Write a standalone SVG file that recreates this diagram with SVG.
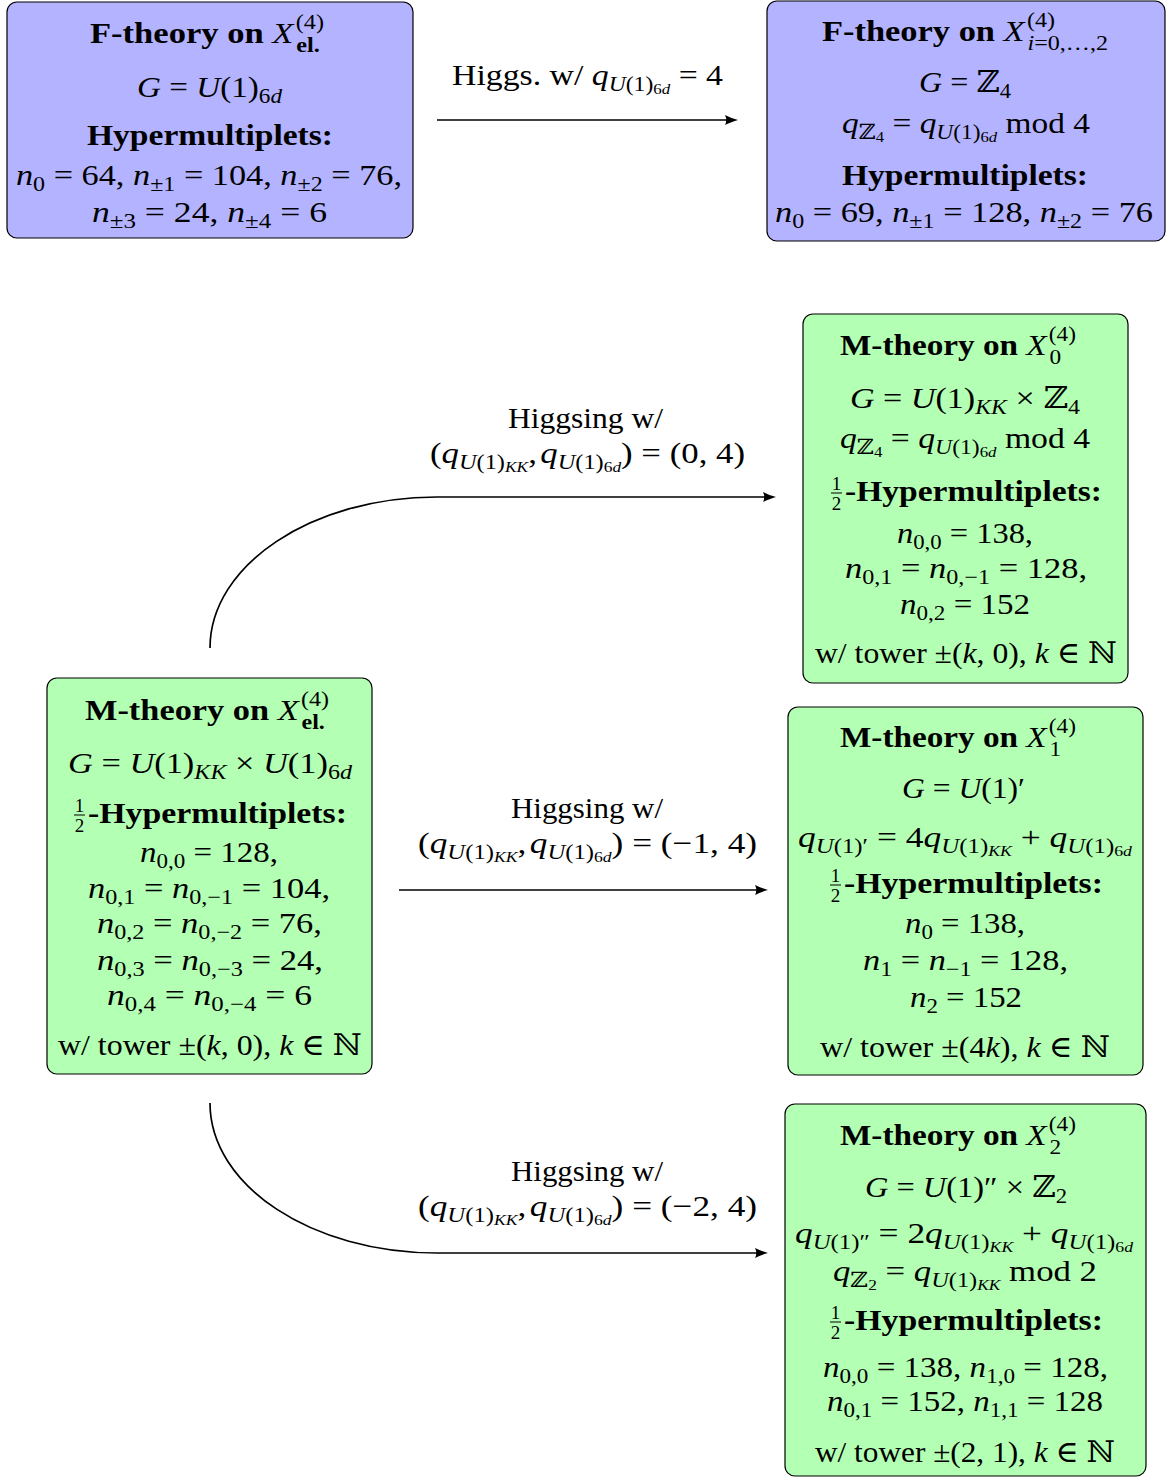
<svg xmlns="http://www.w3.org/2000/svg" width="1168" height="1477" viewBox="0 0 1168 1477">
<style>
text{font-family:"Liberation Serif","DejaVu Serif",serif;font-size:30px;fill:#000}
.b{font-weight:bold}
.i{font-style:italic}
.s{font-size:21px}
.ss{font-size:15px}
.fr{font-size:19px;text-anchor:middle}
.fb{fill:#b3b3ff;stroke:#000;stroke-width:1.2}
.gb{fill:#b3ffb3;stroke:#000;stroke-width:1.2}
.bar{stroke:#000;stroke-width:1}
.cn{fill:none;stroke:#000;stroke-width:1.7;marker-end:url(#ah)}
</style>
<defs>
<marker id="ah" markerWidth="14" markerHeight="12" refX="9" refY="6" orient="auto" markerUnits="userSpaceOnUse">
<path d="M13,6 C9,5 4,3 0,1 Q2.5,6 0,11 C4,9 9,7 13,6Z" fill="#000"/>
</marker>
</defs>

<g id="connectors">
<path class="cn" d="M437,120 L734,120"/>
<path class="cn" d="M210,648 C210,565 312,497 437,497 L772,497"/>
<path class="cn" d="M399,890 L764,890"/>
<path class="cn" d="M210,1103 C210,1186 312,1253 437,1253 L764,1253"/>
<text x="452" y="85" textLength="271" lengthAdjust="spacingAndGlyphs">Higgs.  w/ <tspan class="i">q</tspan><tspan class="s i" dy="6">U</tspan><tspan class="s">(1)</tspan><tspan class="ss" dy="3">6</tspan><tspan class="ss i">d</tspan><tspan dy="-9"> = 4</tspan></text>
<text x="508" y="428" textLength="155" lengthAdjust="spacingAndGlyphs">Higgsing w/</text>
<text x="430" y="463" textLength="315" lengthAdjust="spacingAndGlyphs">(<tspan class="i">q</tspan><tspan class="s i" dy="6">U</tspan><tspan class="s">(1)</tspan><tspan class="ss i" dy="3">KK</tspan><tspan dy="-9">,</tspan><tspan class="i" dx="3">q</tspan><tspan class="s i" dy="6">U</tspan><tspan class="s">(1)</tspan><tspan class="ss" dy="3">6</tspan><tspan class="ss i">d</tspan><tspan dy="-9">) = (0, 4)</tspan></text>
<text x="511" y="818" textLength="152" lengthAdjust="spacingAndGlyphs">Higgsing w/</text>
<text x="418" y="853" textLength="339" lengthAdjust="spacingAndGlyphs">(<tspan class="i">q</tspan><tspan class="s i" dy="6">U</tspan><tspan class="s">(1)</tspan><tspan class="ss i" dy="3">KK</tspan><tspan dy="-9">,</tspan><tspan class="i" dx="3">q</tspan><tspan class="s i" dy="6">U</tspan><tspan class="s">(1)</tspan><tspan class="ss" dy="3">6</tspan><tspan class="ss i">d</tspan><tspan dy="-9">) = (−1, 4)</tspan></text>
<text x="511" y="1181" textLength="152" lengthAdjust="spacingAndGlyphs">Higgsing w/</text>
<text x="418" y="1216" textLength="339" lengthAdjust="spacingAndGlyphs">(<tspan class="i">q</tspan><tspan class="s i" dy="6">U</tspan><tspan class="s">(1)</tspan><tspan class="ss i" dy="3">KK</tspan><tspan dy="-9">,</tspan><tspan class="i" dx="3">q</tspan><tspan class="s i" dy="6">U</tspan><tspan class="s">(1)</tspan><tspan class="ss" dy="3">6</tspan><tspan class="ss i">d</tspan><tspan dy="-9">) = (−2, 4)</tspan></text>
</g>

<g id="f-theory-el">
<rect class="fb" x="7" y="2" width="406" height="236" rx="10"/>
<text x="90" y="43" textLength="234" lengthAdjust="spacingAndGlyphs"><tspan class="b">F-theory on </tspan><tspan class="i">X</tspan><tspan class="s" dx="2" dy="-14">(4)</tspan><tspan class="s b" dx="-24" dy="23">el.</tspan></text>
<text x="137" y="97" textLength="145" lengthAdjust="spacingAndGlyphs"><tspan class="i">G</tspan> = <tspan class="i">U</tspan>(1)<tspan class="s" dy="6">6</tspan><tspan class="s i">d</tspan></text>
<text x="87" y="145" textLength="246" lengthAdjust="spacingAndGlyphs" class="b">Hypermultiplets:</text>
<text x="16" y="185" textLength="386" lengthAdjust="spacingAndGlyphs"><tspan class="i">n</tspan><tspan class="s" dy="6">0</tspan><tspan dy="-6"> = 64, </tspan><tspan class="i">n</tspan><tspan class="s" dy="6">±1</tspan><tspan dy="-6"> = 104, </tspan><tspan class="i">n</tspan><tspan class="s" dy="6">±2</tspan><tspan dy="-6"> = 76,</tspan></text>
<text x="92" y="222" textLength="235" lengthAdjust="spacingAndGlyphs"><tspan class="i">n</tspan><tspan class="s" dy="6">±3</tspan><tspan dy="-6"> = 24, </tspan><tspan class="i">n</tspan><tspan class="s" dy="6">±4</tspan><tspan dy="-6"> = 6</tspan></text>
</g>

<g id="f-theory-xi">
<rect class="fb" x="767" y="1" width="398" height="240" rx="10"/>
<text x="822" y="41" textLength="286" lengthAdjust="spacingAndGlyphs"><tspan class="b">F-theory on </tspan><tspan class="i">X</tspan><tspan class="s" dx="2" dy="-14">(4)</tspan><tspan class="s i" dx="-24" dy="23">i</tspan><tspan class="s">=0,…,2</tspan></text>
<text x="919" y="92" textLength="92" lengthAdjust="spacingAndGlyphs"><tspan class="i">G</tspan> = ℤ<tspan class="s" dy="6">4</tspan></text>
<text x="842" y="133" textLength="248" lengthAdjust="spacingAndGlyphs"><tspan class="i">q</tspan><tspan class="s" dy="6">ℤ</tspan><tspan class="ss" dy="3">4</tspan><tspan dy="-9"> = </tspan><tspan class="i">q</tspan><tspan class="s i" dy="6">U</tspan><tspan class="s">(1)</tspan><tspan class="ss" dy="3">6</tspan><tspan class="ss i">d</tspan><tspan dy="-9"> mod 4</tspan></text>
<text x="842" y="185" textLength="246" lengthAdjust="spacingAndGlyphs" class="b">Hypermultiplets:</text>
<text x="775" y="222" textLength="378" lengthAdjust="spacingAndGlyphs"><tspan class="i">n</tspan><tspan class="s" dy="6">0</tspan><tspan dy="-6"> = 69, </tspan><tspan class="i">n</tspan><tspan class="s" dy="6">±1</tspan><tspan dy="-6"> = 128, </tspan><tspan class="i">n</tspan><tspan class="s" dy="6">±2</tspan><tspan dy="-6"> = 76</tspan></text>
</g>

<g id="m-theory-x0">
<rect class="gb" x="803" y="314" width="325" height="369" rx="10"/>
<text x="840" y="355" textLength="236" lengthAdjust="spacingAndGlyphs"><tspan class="b">M-theory on </tspan><tspan class="i">X</tspan><tspan class="s" dx="2" dy="-14">(4)</tspan><tspan class="s" dx="-24" dy="23">0</tspan></text>
<text x="850" y="408" textLength="230" lengthAdjust="spacingAndGlyphs"><tspan class="i">G</tspan> = <tspan class="i">U</tspan>(1)<tspan class="s i" dy="6">KK</tspan><tspan dy="-6"> × ℤ</tspan><tspan class="s" dy="6">4</tspan></text>
<text x="840" y="448" textLength="250" lengthAdjust="spacingAndGlyphs"><tspan class="i">q</tspan><tspan class="s" dy="6">ℤ</tspan><tspan class="ss" dy="3">4</tspan><tspan dy="-9"> = </tspan><tspan class="i">q</tspan><tspan class="s i" dy="6">U</tspan><tspan class="s">(1)</tspan><tspan class="ss" dy="3">6</tspan><tspan class="ss i">d</tspan><tspan dy="-9"> mod 4</tspan></text>
<text class="fr" x="836.5" y="490">1</text><line class="bar" x1="831" y1="493" x2="842" y2="493"/><text class="fr" x="836.5" y="510">2</text>
<text x="845" y="501" textLength="257" lengthAdjust="spacingAndGlyphs" class="b">-Hypermultiplets:</text>
<text x="897" y="543" textLength="136" lengthAdjust="spacingAndGlyphs"><tspan class="i">n</tspan><tspan class="s" dy="6">0,0</tspan><tspan dy="-6"> = 138,</tspan></text>
<text x="845" y="578" textLength="242" lengthAdjust="spacingAndGlyphs"><tspan class="i">n</tspan><tspan class="s" dy="6">0,1</tspan><tspan dy="-6"> = </tspan><tspan class="i">n</tspan><tspan class="s" dy="6">0,−1</tspan><tspan dy="-6"> = 128,</tspan></text>
<text x="900" y="614" textLength="130" lengthAdjust="spacingAndGlyphs"><tspan class="i">n</tspan><tspan class="s" dy="6">0,2</tspan><tspan dy="-6"> = 152</tspan></text>
<text x="815" y="663" textLength="302" lengthAdjust="spacingAndGlyphs">w/ tower ±(<tspan class="i">k</tspan>, 0), <tspan class="i">k</tspan> ∈ ℕ</text>
</g>

<g id="m-theory-el">
<rect class="gb" x="47" y="678" width="325" height="396" rx="10"/>
<text x="85" y="720" textLength="244" lengthAdjust="spacingAndGlyphs"><tspan class="b">M-theory on </tspan><tspan class="i">X</tspan><tspan class="s" dx="2" dy="-14">(4)</tspan><tspan class="s b" dx="-24" dy="23">el.</tspan></text>
<text x="68" y="773" textLength="284" lengthAdjust="spacingAndGlyphs"><tspan class="i">G</tspan> = <tspan class="i">U</tspan>(1)<tspan class="s i" dy="6">KK</tspan><tspan dy="-6"> × </tspan><tspan class="i">U</tspan>(1)<tspan class="s" dy="6">6</tspan><tspan class="s i">d</tspan></text>
<text class="fr" x="79.5" y="812">1</text><line class="bar" x1="74" y1="815" x2="85" y2="815"/><text class="fr" x="79.5" y="832">2</text>
<text x="88" y="823" textLength="259" lengthAdjust="spacingAndGlyphs" class="b">-Hypermultiplets:</text>
<text x="140" y="862" textLength="138" lengthAdjust="spacingAndGlyphs"><tspan class="i">n</tspan><tspan class="s" dy="6">0,0</tspan><tspan dy="-6"> = 128,</tspan></text>
<text x="88" y="898" textLength="242" lengthAdjust="spacingAndGlyphs"><tspan class="i">n</tspan><tspan class="s" dy="6">0,1</tspan><tspan dy="-6"> = </tspan><tspan class="i">n</tspan><tspan class="s" dy="6">0,−1</tspan><tspan dy="-6"> = 104,</tspan></text>
<text x="97" y="933" textLength="225" lengthAdjust="spacingAndGlyphs"><tspan class="i">n</tspan><tspan class="s" dy="6">0,2</tspan><tspan dy="-6"> = </tspan><tspan class="i">n</tspan><tspan class="s" dy="6">0,−2</tspan><tspan dy="-6"> = 76,</tspan></text>
<text x="97" y="970" textLength="226" lengthAdjust="spacingAndGlyphs"><tspan class="i">n</tspan><tspan class="s" dy="6">0,3</tspan><tspan dy="-6"> = </tspan><tspan class="i">n</tspan><tspan class="s" dy="6">0,−3</tspan><tspan dy="-6"> = 24,</tspan></text>
<text x="107" y="1005" textLength="205" lengthAdjust="spacingAndGlyphs"><tspan class="i">n</tspan><tspan class="s" dy="6">0,4</tspan><tspan dy="-6"> = </tspan><tspan class="i">n</tspan><tspan class="s" dy="6">0,−4</tspan><tspan dy="-6"> = 6</tspan></text>
<text x="58" y="1055" textLength="304" lengthAdjust="spacingAndGlyphs">w/ tower ±(<tspan class="i">k</tspan>, 0), <tspan class="i">k</tspan> ∈ ℕ</text>
</g>

<g id="m-theory-x1">
<rect class="gb" x="788" y="707" width="355" height="368" rx="10"/>
<text x="840" y="747" textLength="236" lengthAdjust="spacingAndGlyphs"><tspan class="b">M-theory on </tspan><tspan class="i">X</tspan><tspan class="s" dx="2" dy="-14">(4)</tspan><tspan class="s" dx="-24" dy="23">1</tspan></text>
<text x="902" y="798" textLength="123" lengthAdjust="spacingAndGlyphs"><tspan class="i">G</tspan> = <tspan class="i">U</tspan>(1)′</text>
<text x="798" y="847" textLength="334" lengthAdjust="spacingAndGlyphs"><tspan class="i">q</tspan><tspan class="s i" dy="6">U</tspan><tspan class="s">(1)′</tspan><tspan dy="-6"> = 4</tspan><tspan class="i">q</tspan><tspan class="s i" dy="6">U</tspan><tspan class="s">(1)</tspan><tspan class="ss i" dy="3">KK</tspan><tspan dy="-9"> + </tspan><tspan class="i">q</tspan><tspan class="s i" dy="6">U</tspan><tspan class="s">(1)</tspan><tspan class="ss" dy="3">6</tspan><tspan class="ss i">d</tspan></text>
<text class="fr" x="835.5" y="882">1</text><line class="bar" x1="830" y1="885" x2="841" y2="885"/><text class="fr" x="835.5" y="902">2</text>
<text x="844" y="893" textLength="259" lengthAdjust="spacingAndGlyphs" class="b">-Hypermultiplets:</text>
<text x="905" y="933" textLength="120" lengthAdjust="spacingAndGlyphs"><tspan class="i">n</tspan><tspan class="s" dy="6">0</tspan><tspan dy="-6"> = 138,</tspan></text>
<text x="863" y="970" textLength="205" lengthAdjust="spacingAndGlyphs"><tspan class="i">n</tspan><tspan class="s" dy="6">1</tspan><tspan dy="-6"> = </tspan><tspan class="i">n</tspan><tspan class="s" dy="6">−1</tspan><tspan dy="-6"> = 128,</tspan></text>
<text x="910" y="1007" textLength="112" lengthAdjust="spacingAndGlyphs"><tspan class="i">n</tspan><tspan class="s" dy="6">2</tspan><tspan dy="-6"> = 152</tspan></text>
<text x="820" y="1057" textLength="290" lengthAdjust="spacingAndGlyphs">w/ tower ±(4<tspan class="i">k</tspan>), <tspan class="i">k</tspan> ∈ ℕ</text>
</g>

<g id="m-theory-x2">
<rect class="gb" x="785" y="1104" width="361" height="372" rx="10"/>
<text x="840" y="1145" textLength="236" lengthAdjust="spacingAndGlyphs"><tspan class="b">M-theory on </tspan><tspan class="i">X</tspan><tspan class="s" dx="2" dy="-14">(4)</tspan><tspan class="s" dx="-24" dy="23">2</tspan></text>
<text x="865" y="1197" textLength="202" lengthAdjust="spacingAndGlyphs"><tspan class="i">G</tspan> = <tspan class="i">U</tspan>(1)″ × ℤ<tspan class="s" dy="6">2</tspan></text>
<text x="795" y="1243" textLength="338" lengthAdjust="spacingAndGlyphs"><tspan class="i">q</tspan><tspan class="s i" dy="6">U</tspan><tspan class="s">(1)″</tspan><tspan dy="-6"> = 2</tspan><tspan class="i">q</tspan><tspan class="s i" dy="6">U</tspan><tspan class="s">(1)</tspan><tspan class="ss i" dy="3">KK</tspan><tspan dy="-9"> + </tspan><tspan class="i">q</tspan><tspan class="s i" dy="6">U</tspan><tspan class="s">(1)</tspan><tspan class="ss" dy="3">6</tspan><tspan class="ss i">d</tspan></text>
<text x="833" y="1281" textLength="264" lengthAdjust="spacingAndGlyphs"><tspan class="i">q</tspan><tspan class="s" dy="6">ℤ</tspan><tspan class="ss" dy="3">2</tspan><tspan dy="-9"> = </tspan><tspan class="i">q</tspan><tspan class="s i" dy="6">U</tspan><tspan class="s">(1)</tspan><tspan class="ss i" dy="3">KK</tspan><tspan dy="-9"> mod 2</tspan></text>
<text class="fr" x="835.5" y="1319">1</text><line class="bar" x1="830" y1="1322" x2="841" y2="1322"/><text class="fr" x="835.5" y="1339">2</text>
<text x="844" y="1330" textLength="259" lengthAdjust="spacingAndGlyphs" class="b">-Hypermultiplets:</text>
<text x="823" y="1377" textLength="285" lengthAdjust="spacingAndGlyphs"><tspan class="i">n</tspan><tspan class="s" dy="6">0,0</tspan><tspan dy="-6"> = 138, </tspan><tspan class="i">n</tspan><tspan class="s" dy="6">1,0</tspan><tspan dy="-6"> = 128,</tspan></text>
<text x="827" y="1411" textLength="276" lengthAdjust="spacingAndGlyphs"><tspan class="i">n</tspan><tspan class="s" dy="6">0,1</tspan><tspan dy="-6"> = 152, </tspan><tspan class="i">n</tspan><tspan class="s" dy="6">1,1</tspan><tspan dy="-6"> = 128</tspan></text>
<text x="815" y="1462" textLength="300" lengthAdjust="spacingAndGlyphs">w/ tower ±(2, 1), <tspan class="i">k</tspan> ∈ ℕ</text>
</g>
</svg>
